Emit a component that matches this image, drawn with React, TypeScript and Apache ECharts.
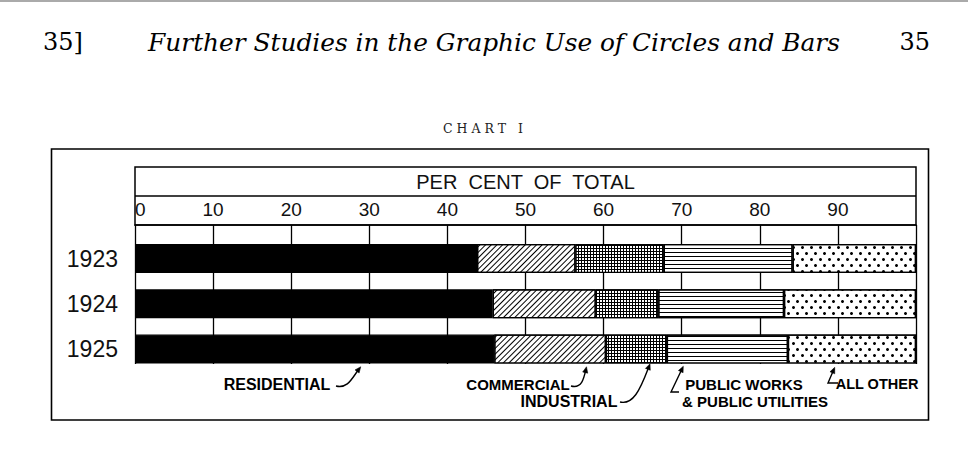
import React, { useEffect, useRef } from "react";
import * as echarts from "echarts";

// ---- data (per cent of total) ----
const years = ["1923", "1924", "1925"];
const seriesNames = ["RESIDENTIAL", "COMMERCIAL", "INDUSTRIAL", "PUBLIC WORKS & PUBLIC UTILITIES", "ALL OTHER"];
const residential = [43.8, 45.8, 46.0];
const commercial = [12.6, 13.2, 14.3];
const industrial = [11.3, 8.0, 7.8];
const publicWorks = [16.5, 16.1, 15.5];
const allOther = [15.8, 16.9, 16.4];
const axisMin = 0;
const axisMax = 100;
const axisStep = 10;

const LETTER = "'Liberation Sans', 'DejaVu Sans', sans-serif";
const SERIF = "'DejaVu Serif', 'Liberation Serif', serif";

function arrowHead(tipX: number, tipY: number, fromX: number, fromY: number) {
  const dx = tipX - fromX;
  const dy = tipY - fromY;
  const len = Math.sqrt(dx * dx + dy * dy) || 1;
  const ux = dx / len;
  const uy = dy / len;
  const L = 6;
  const W = 2.6;
  const bx = tipX - ux * L;
  const by = tipY - uy * L;
  return {
    type: "polygon",
    shape: {
      points: [
        [tipX, tipY],
        [bx - uy * W, by + ux * W],
        [bx + uy * W, by - ux * W],
      ],
    },
    style: { fill: "#000", stroke: "#000", lineWidth: 0.5 },
  };
}

function curveArrow(x1: number, y1: number, cx1: number, cy1: number, cx2: number, cy2: number, x2: number, y2: number) {
  return [
    {
      type: "bezierCurve",
      shape: { x1, y1, cpx1: cx1, cpy1: cy1, cpx2: cx2, cpy2: cy2, x2, y2 },
      style: { stroke: "#000", lineWidth: 1.4, fill: null },
    },
    arrowHead(x2 + (x2 - cx2) * 0.25, y2 + (y2 - cy2) * 0.25, cx2, cy2),
  ];
}

function elbowArrow(footX: number, footY: number, cornerX: number, cornerY: number, tipX: number, tipY: number) {
  return [
    {
      type: "polyline",
      shape: { points: [[footX, footY], [cornerX, cornerY], [tipX, tipY]] },
      style: { stroke: "#000", lineWidth: 1.4, fill: null },
    },
    arrowHead(tipX + (tipX - cornerX) * 0.12, tipY + (tipY - cornerY) * 0.12, cornerX, cornerY),
  ];
}

const labelStyle = (x: number, y: number, text: string, size = 16) => ({
  type: "text",
  x,
  y,
  style: {
    text,
    fill: "#000",
    font: `bold ${size}px ${LETTER}`,
    textAlign: "center",
    textVerticalAlign: "middle",
  },
});

export default function App() {
  const ref = useRef<HTMLDivElement>(null);

  useEffect(() => {
    if (!ref.current) return;
    const chart = echarts.init(ref.current, null, { renderer: "svg" });

    const barBase = {
      type: "bar",
      stack: "total",
      xAxisIndex: 1,
      yAxisIndex: 1,
      barWidth: 29,
      emphasis: { disabled: true },
    };

    const option: any = {
      animation: false,
      backgroundColor: "#fff",
      grid: [
        { left: 135, right: 52, top: 225, bottom: 87 },
        { left: 135, right: 52, top: 235.85, bottom: 79.25 },
      ],
      xAxis: [
        {
          gridIndex: 0,
          type: "value",
          position: "top",
          min: axisMin,
          max: axisMax,
          interval: axisStep,
          axisLine: { show: true, lineStyle: { color: "#000", width: 1.5 } },
          axisTick: { show: false },
          axisLabel: {
            show: true,
            margin: 6,
            fontSize: 19,
            lineHeight: 19,
            color: "#111",
            fontFamily: LETTER,
            showMaxLabel: false,
            alignMinLabel: "left",
          },
          splitLine: { show: true, lineStyle: { color: "#000", width: 1.3 } },
          name: "PER  CENT  OF  TOTAL",
          nameLocation: "middle",
          nameGap: 33,
          nameTextStyle: { fontSize: 20, lineHeight: 20, color: "#111", fontFamily: LETTER },
        },
        { gridIndex: 1, type: "value", min: axisMin, max: axisMax, show: false },
      ],
      yAxis: [
        { gridIndex: 0, type: "category", data: years, show: false },
        {
          gridIndex: 1,
          type: "category",
          data: years,
          inverse: true,
          axisLine: { show: false },
          axisTick: { show: false },
          splitLine: { show: false },
          axisLabel: { margin: 17, fontSize: 23, color: "#111", fontFamily: LETTER },
        },
      ],
      series: [
        {
          ...barBase,
          name: seriesNames[0],
          data: residential,
          itemStyle: { color: "#000", borderColor: "#000", borderWidth: 1.2 },
        },
        {
          ...barBase,
          name: seriesNames[1],
          data: commercial,
          itemStyle: {
            color: "#fff",
            borderColor: "#000",
            borderWidth: 1.2,
            decal: {
              symbol: "rect",
              symbolSize: 1,
              color: "#000",
              dashArrayX: [1, 0],
              dashArrayY: [1, 2.6],
              rotation: -Math.PI / 4,
            },
          },
        },
        {
          ...barBase,
          name: seriesNames[2],
          data: industrial,
          itemStyle: {
            color: "#000",
            borderColor: "#000",
            borderWidth: 1.2,
            decal: {
              symbol: "rect",
              symbolSize: 1,
              color: "#fff",
              dashArrayX: [2, 1],
              dashArrayY: [2, 1],
              rotation: 0,
            },
          },
        },
        {
          ...barBase,
          name: seriesNames[3],
          data: publicWorks,
          itemStyle: {
            color: "#fff",
            borderColor: "#000",
            borderWidth: 1.2,
            decal: {
              symbol: "rect",
              symbolSize: 1,
              color: "#000",
              dashArrayX: [1, 0],
              dashArrayY: [1, 3],
              rotation: 0,
            },
          },
        },
        {
          ...barBase,
          name: seriesNames[4],
          data: allOther,
          itemStyle: {
            color: "#fff",
            borderColor: "#000",
            borderWidth: 1.2,
            decal: {
              symbol: "circle",
              symbolSize: 1,
              color: "#000",
              dashArrayX: [[2.4, 5.6], [0, 4, 2.4, 1.6]],
              dashArrayY: [2.4, 2.4],
              rotation: 0,
            },
          },
        },
      ],
      graphic: [
        { type: "line", shape: { x1: 0, y1: 1, x2: 968, y2: 1 }, style: { stroke: "#aaa", lineWidth: 2 } },
        {
          type: "text",
          x: 43,
          y: 42,
          style: { text: "35]", fill: "#000", font: `24px ${SERIF}`, textAlign: "left", textVerticalAlign: "middle" },
        },
        {
          type: "text",
          x: 494,
          y: 42,
          style: {
            text: "Further Studies in the Graphic Use of Circles and Bars",
            fill: "#000",
            font: `italic 24.8px ${SERIF}`,
            textAlign: "center",
            textVerticalAlign: "middle",
          },
        },
        {
          type: "text",
          x: 930,
          y: 42,
          style: { text: "35", fill: "#000", font: `24px ${SERIF}`, textAlign: "right", textVerticalAlign: "middle" },
        },
        {
          type: "text",
          x: 483,
          y: 128,
          style: { text: "C H A R T   I", fill: "#222", font: `12.5px ${SERIF}`, textAlign: "center", textVerticalAlign: "middle" },
        },
        {
          type: "rect",
          shape: { x: 51.5, y: 149, width: 877, height: 271 },
          style: { fill: null, stroke: "#000", lineWidth: 1.6 },
        },
        {
          type: "rect",
          shape: { x: 135, y: 167, width: 781, height: 58 },
          style: { fill: null, stroke: "#000", lineWidth: 1.5 },
        },
        { type: "line", shape: { x1: 135, y1: 196, x2: 916, y2: 196 }, style: { stroke: "#000", lineWidth: 1.5 } },
        labelStyle(277, 384, "RESIDENTIAL"),
        labelStyle(518, 384, "COMMERCIAL", 15),
        labelStyle(569, 401, "INDUSTRIAL"),
        labelStyle(744, 384, "PUBLIC WORKS", 15),
        labelStyle(755, 401, "& PUBLIC UTILITIES", 15),
        labelStyle(877, 384, "ALL OTHER", 14.5),
        ...curveArrow(336, 386, 348, 389, 352, 378, 359, 369),
        ...curveArrow(571, 386, 582, 389, 584, 378, 586, 369),
        ...curveArrow(620, 402, 633, 405, 640, 390, 648, 369),
        ...elbowArrow(679, 392, 671, 392, 682, 369),
        ...elbowArrow(838, 383, 828, 383, 834, 369),
      ],
    };

    chart.setOption(option);
    return () => chart.dispose();
  }, []);

  return (
    <div
      ref={ref}
      style={{ position: "fixed", left: 0, top: 0, width: 968, height: 451, background: "#fff" }}
    />
  );
}
